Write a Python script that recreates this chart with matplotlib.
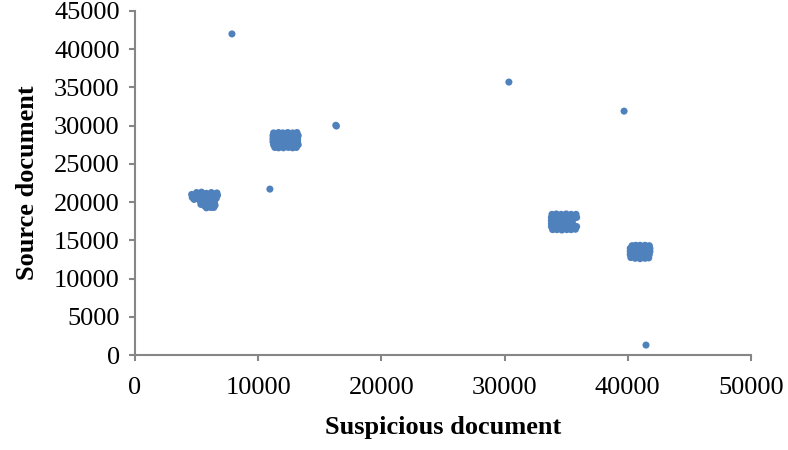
import matplotlib
matplotlib.use("Agg")
import matplotlib.pyplot as plt

# ---- data ----
c1_x = [4600, 4650, 4800, 5000, 5050, 5100, 5400, 5450, 5500, 5800, 5850, 5750,
        6200, 6250, 6150, 6650, 6700, 6600, 5300, 5350, 5700, 5650, 5800, 6100,
        6050, 6150, 6450, 6500, 6400, 5900,
        4800, 5200, 5600, 6000, 6400, 5250, 5650, 6050, 6450, 4900, 5550, 5950,
        6350, 5500, 5950, 6300, 6300, 5900]
c1_y = [21000, 20600, 20350, 21250, 20800, 20450, 21300, 20900, 20500, 21150, 20800, 20400,
        21250, 20850, 20450, 21200, 20900, 20500, 20100, 19700, 20000, 19500, 19250, 20050,
        19600, 19300, 20000, 19600, 19300, 19900,
        20800, 21050, 21100, 21000, 21050, 20650, 20650, 20650, 20700, 20550, 20250, 20250,
        20250, 19850, 19450, 19800, 19450, 19650]

c2_x = [11250, 11650, 12000, 12400, 12800, 13150,
        11200, 11600, 12000, 12400, 12800, 13250,
        11200, 11600, 12050, 12450, 12850, 13200,
        11200, 11650, 12000, 12400, 12800, 13200,
        11250, 11600, 12000, 12400, 12800, 13250,
        11350, 11650, 12050, 12450, 12800, 13100,
        11400, 11800, 12200, 12600, 13000,
        11400, 11800, 12200, 12600, 13000,
        11400, 11800, 12200, 12600, 13000,
        11400, 11800, 12200, 12600, 13000,
        11400, 11800, 12200, 12600, 13000]
c2_y = [29050, 29100, 29050, 29100, 29050, 29100,
        28700, 28650, 28700, 28700, 28650, 28700,
        28300, 28300, 28250, 28300, 28300, 28250,
        27900, 27850, 27900, 27900, 27850, 27900,
        27500, 27450, 27500, 27500, 27450, 27500,
        27150, 27100, 27100, 27150, 27100, 27150,
        28900, 28900, 28900, 28900, 28900,
        28500, 28500, 28500, 28500, 28500,
        28100, 28100, 28100, 28100, 28100,
        27700, 27700, 27700, 27700, 27700,
        27300, 27300, 27300, 27300, 27300]

c3_x = [33850, 34200, 34600, 35000, 35400, 35800,
        33800, 34200, 34600, 35000, 35400, 35850,
        33800, 34200, 34600, 35000, 35450,
        33800, 34200, 34600, 35000, 35450,
        33800, 34200, 34600, 35000, 35400, 35850,
        33900, 34250, 34650, 35050, 35400, 35750,
        34000, 34400, 34800, 35200, 35600,
        34000, 34400, 34800, 35200, 35600,
        34000, 34400, 34800, 35200, 35300,
        34000, 34400, 34800, 35200, 35600,
        34000, 34400, 34800, 35200, 35600]
c3_y = [18400, 18450, 18400, 18450, 18400, 18400,
        18000, 18000, 18050, 18000, 18000, 18000,
        17600, 17600, 17600, 17650, 17600,
        17200, 17250, 17200, 17200, 17200,
        16800, 16800, 16850, 16800, 16800, 16800,
        16400, 16400, 16350, 16400, 16400, 16450,
        18200, 18200, 18200, 18200, 18200,
        17800, 17800, 17800, 17800, 17800,
        17400, 17400, 17400, 17400, 17400,
        17000, 17000, 17000, 17000, 17000,
        16600, 16600, 16600, 16600, 16600]

c4_x = [40350, 40650, 41000, 41400, 41750,
        40200, 40600, 41000, 41400, 41800,
        40200, 40600, 41000, 41400, 41800,
        40200, 40600, 41000, 41400, 41750,
        40250, 40600, 41000, 41400, 41700,
        40400, 40800, 41200, 41600,
        40400, 40800, 41200, 41600,
        40400, 40800, 41200, 41600,
        40400, 40800, 41200, 41600]
c4_y = [14300, 14350, 14350, 14350, 14300,
        13950, 13950, 13950, 13950, 13950,
        13550, 13550, 13550, 13550, 13550,
        13150, 13150, 13150, 13150, 13150,
        12750, 12650, 12600, 12650, 12700,
        14150, 14150, 14150, 14150,
        13750, 13750, 13750, 13750,
        13350, 13350, 13350, 13350,
        12950, 12950, 12950, 12950]

single_x = [7870, 10950, 16300, 16350, 30350, 39700, 41480]
single_y = [42000, 21700, 30050, 29950, 35700, 31900, 1300]

x_ticks = [0, 10000, 20000, 30000, 40000, 50000]
y_ticks = [0, 5000, 10000, 15000, 20000, 25000, 30000, 35000, 40000, 45000]

# ---- drawing ----
plt.rcParams['font.family'] = ['Liberation Serif', 'DejaVu Serif']
fig = plt.figure(figsize=(7.88, 4.5), dpi=100)
ax = fig.add_axes([0.1713, 0.2111, 0.953 - 0.1713, 0.9756 - 0.2111])

color = '#4F81BD'
for xs, ys in [(c1_x, c1_y), (c2_x, c2_y), (c3_x, c3_y), (c4_x, c4_y), (single_x, single_y)]:
    ax.scatter(xs, ys, s=26, color=color, edgecolors='none', zorder=3)

ax.set_xlim(0, 50000)
ax.set_ylim(0, 45000)
ax.set_xticks(x_ticks)
ax.set_yticks(y_ticks)
ax.set_xticklabels([str(v) for v in x_ticks])
ax.set_yticklabels([str(v) for v in y_ticks])

for s in ['top', 'right']:
    ax.spines[s].set_visible(False)
for s in ['left', 'bottom']:
    ax.spines[s].set_color('#868686')
    ax.spines[s].set_linewidth(1.5)
ax.tick_params(axis='both', direction='out', length=4, width=1.5, color='#868686',
               labelsize=19, labelcolor='black')
ax.tick_params(axis='x', pad=12)
ax.tick_params(axis='y', pad=7)

ax.set_xlabel('Suspicious document', fontsize=19, fontweight='bold', labelpad=12)
ax.set_ylabel('Source document', fontsize=19, fontweight='bold', labelpad=11)

fig.savefig('out.png', dpi=100)
